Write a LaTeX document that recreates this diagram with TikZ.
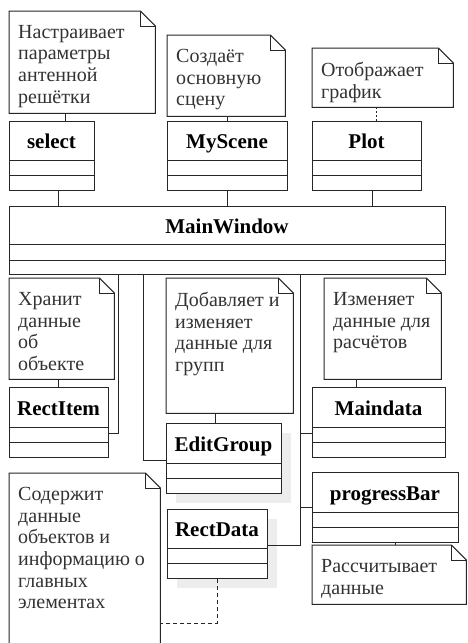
\documentclass[tikz,border=0pt]{standalone}
\usepackage{fontspec}
\setmainfont{Liberation Serif}
\usetikzlibrary{shadows}
\tikzset{
  ln/.style={line width=1pt, draw=black!85},
  cls/.style={ln, fill=white, inner sep=0pt, anchor=north west, minimum width=#1},
  clsname/.style={font=\bfseries\fontsize{21}{24}\selectfont, inner sep=0pt, anchor=base},
  notebox/.style={draw=none, inner sep=0pt, anchor=north west},
  notetext/.style={font=\fontsize{20}{21.7}\selectfont, text=black!80, align=left, inner sep=0pt, anchor=north west},
  shade/.style={drop shadow={shadow xshift=9pt, shadow yshift=-9pt, fill=black!7, opacity=1}},
  noteline/.style={ln, line width=0.8pt},
  dotline/.style={ln, line width=0.8pt, dash pattern=on 2pt off 2pt},
  dashline/.style={ln, dash pattern=on 4pt off 3pt},
}
% class: name, x1, y1, x2, y2, line1, line2, title, extra options
\newcommand\umlcls[9]{%
  \node[cls={(#4)-(#2)}, minimum height={(#5)-(#3)}, #9] (#1) at (#2,#3) {};
  \node[clsname] (#1t) at ({(#2+#4)/2},{(#3+#6)/2+8}) {#8};
  \draw[ln] (#1.west |- 0,#6) -- (#1.east |- 0,#6);
  \draw[ln] (#1.west |- 0,#7) -- (#1.east |- 0,#7);
}
% note: name, x1, y1, x2, y2, text
\newcommand\umlnote[6]{%
  \node[notebox, minimum width={(#4)-(#2)}, minimum height={(#5)-(#3)}] (#1) at (#2,#3) {};
  \draw[ln, fill=white] (#1.north west) -- ([xshift=-15pt]#1.north east) -- ([yshift=-15pt]#1.north east) -- (#1.south east) -- (#1.south west) -- cycle;
  \draw[ln] ([xshift=-15pt]#1.north east) |- ([yshift=-15pt]#1.north east);
  \node[notetext] (#1t) at ([shift={(9pt,-14pt)}]#1.north west) {#6};
}
\begin{document}
\begin{tikzpicture}[x=1pt, y=-1pt]
\useasboundingbox (0,0) rectangle (467,643);
\clip (0,0) rectangle (467,643);
\fill[white] (0,0) rectangle (467,643);

% top notes and classes
\umlnote{nSelect}{9}{11}{155}{113}{Настраивает\\параметры\\антенной\\решётки}
\umlnote{nScene}{167}{35}{285}{116}{Создаёт\\основную\\сцену}
\umlnote{nPlot}{312}{48}{453}{107}{Отображает\\график}

\umlcls{cSelect}{9}{121}{94}{190}{160}{175}{select}{}
\umlcls{cScene}{167}{121}{287}{190}{160}{175}{MyScene}{}
\umlcls{cPlot}{312}{121}{421}{190}{160}{175}{Plot}{}

\umlcls{cMain}{9}{206}{445}{274}{244}{260}{MainWindow}{}

% middle notes
\umlnote{nKeep}{9}{278}{114}{379}{Хранит\\данные\\об\\объекте}
\umlnote{nAdd}{166}{278}{293}{413}{Добавляет и\\изменяет\\данные для\\групп}
\umlnote{nChange}{324}{278}{441}{379}{Изменяет\\данные для\\расчётов}

\umlcls{cRectItem}{9}{387}{108}{457}{427}{442}{RectItem}{}
\umlcls{cEdit}{166}{423}{281}{493}{463}{478}{EditGroup}{shade}
\umlcls{cMaindata}{312}{387}{445}{457}{427}{442}{Maindata}{}
\umlcls{cProgress}{312}{472}{458}{542}{512}{527}{progressBar}{}
\umlcls{cRectData}{167}{509}{267}{578}{548}{563}{RectData}{shade}

% bottom notes
\umlnote{nCalc}{312}{545}{466}{604}{Рассчитывает\\данные}
\umlnote{nHold}{9}{473}{160}{680}{Содержит\\данные\\объектов и\\информацию о\\главных\\элементах}

% note links
\draw[noteline] ([xshift=56pt]nSelect.south west) -- ([xshift=56pt]cSelect.north west);
\draw[noteline] ([xshift=60pt]nScene.south west) -- ([xshift=60pt]cScene.north west);
\draw[dotline] ([xshift=64pt]nPlot.south west) -- ([xshift=64pt]cPlot.north west);
\draw[noteline] ([xshift=49pt]nKeep.south west) -- ([xshift=49pt]cRectItem.north west);
\draw[noteline] ([xshift=49pt]nAdd.south west) -- ([xshift=49pt]cEdit.north west);
\draw[noteline] ([xshift=32pt]nChange.south west) -- ([xshift=44pt]cMaindata.north west);
\draw[noteline] ([xshift=83pt]cProgress.south west) -- ([xshift=83pt]nCalc.north west);

% class links to MainWindow
\draw[ln] ([xshift=49pt]cSelect.south west) coordinate (s1) -- (s1 |- cMain.north);
\draw[ln] ([xshift=60pt]cScene.south west) coordinate (s2) -- (s2 |- cMain.north);
\draw[ln] ([xshift=60pt]cPlot.south west) coordinate (s3) -- (s3 |- cMain.north);

\draw[ln] ([xshift=109pt]cMain.south west) |- ([yshift=-46pt]cRectItem.north east);
\draw[ln] ([xshift=134pt]cMain.south west) |- ([yshift=-37pt]cEdit.north west);
\coordinate (trunk) at ([xshift=291pt]cMain.south west);
\draw[ln] (trunk) |- ([yshift=-36pt]cRectData.north east);
\draw[ln] ([yshift=-46pt]cMaindata.north west) coordinate (m1) -- (m1 -| trunk);
\draw[ln] ([yshift=-35pt]cProgress.north west) coordinate (m2) -- (m2 -| trunk);

% RectData to its note
\draw[dashline] ([xshift=50pt]cRectData.south west) |- ([yshift=-150pt]nHold.north east);
\end{tikzpicture}
\end{document}
